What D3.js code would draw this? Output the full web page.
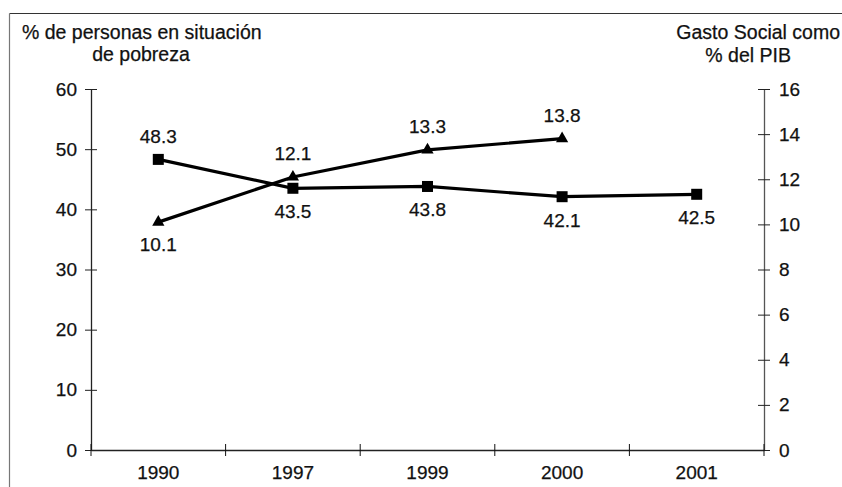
<!DOCTYPE html>
<html><head><meta charset="utf-8">
<script src="https://cdn.jsdelivr.net/npm/d3@7"></script>
<style>
body{margin:0;background:#fff;}
text{font-family:"Liberation Sans",Arial,Helvetica,sans-serif;fill:#111;stroke:#111;stroke-width:0.25px;}
</style></head>
<body>
<svg id="c" width="842" height="487"></svg>
<script>
const years = ["1990","1997","1999","2000","2001"];
const pobreza = [48.3, 43.5, 43.8, 42.1, 42.5];
const gastoYears = ["1990","1997","1999","2000"];
const gasto = [10.1, 12.1, 13.3, 13.8];
const leftTicks = [0,10,20,30,40,50,60];
const rightTicks = [0,2,4,6,8,10,12,14,16];

const svg = d3.select("#c");
const L = 91, R = 764, T = 89, B = 450;

// frame
svg.append("line").attr("x1",9.5).attr("x2",842).attr("y1",13.5).attr("y2",13.5).attr("stroke","#333").attr("stroke-width",1.2);
svg.append("line").attr("x1",9.5).attr("x2",9.5).attr("y1",13.5).attr("y2",487).attr("stroke","#777").attr("stroke-width",1.2);

const x = d3.scaleBand().domain(years).range([L,R]).padding(0);
const yL = d3.scaleLinear().domain([0,60]).range([B,T]);
const yR = d3.scaleLinear().domain([0,16]).range([B,T]);

const fs = "19px";
// left axis
const gl = svg.append("g").attr("transform",`translate(${L},0)`)
  .call(d3.axisLeft(yL).tickValues(leftTicks).tickSize(6).tickSizeOuter(0).tickPadding(8));
gl.selectAll(".tick line").attr("x2",6).attr("x1",-6);
// right axis
const gr = svg.append("g").attr("transform",`translate(${R},0)`)
  .call(d3.axisRight(yR).tickValues(rightTicks).tickSize(6).tickSizeOuter(0).tickPadding(9));
gr.selectAll(".tick line").attr("x1",-6).attr("x2",6);
// x axis
const gx = svg.append("g").attr("transform",`translate(0,${B})`)
  .call(d3.axisBottom(x).tickSize(0).tickSizeOuter(0).tickPadding(16));
const bounds = years.map(y=>x(y)).concat([R]);
gx.selectAll(".bt").data(bounds).enter().append("line").attr("class","bt")
  .attr("x1",d=>d).attr("x2",d=>d).attr("y1",-6).attr("y2",6).attr("stroke","#111");

[gl,gr,gx].forEach(g=>{
  g.selectAll("text").style("font-size",fs).style("font-family","'Liberation Sans',Arial,sans-serif").attr("fill","#111");
  g.selectAll("path.domain").attr("stroke","#222").attr("stroke-width",1.3);
  g.selectAll(".tick line").attr("stroke","#222");
});
gr.selectAll("path.domain").attr("stroke","#555");
gx.selectAll("text").attr("dy","0.71em");

// titles
const tfs = "19.5px";
svg.append("text").attr("x",22).attr("y",39).style("font-size",tfs).text("% de personas en situación");
svg.append("text").attr("x",141).attr("y",61).attr("text-anchor","middle").style("font-size",tfs).text("de pobreza");
svg.append("text").attr("x",840).attr("y",39).attr("text-anchor","end").style("font-size",tfs).text("Gasto Social como");
svg.append("text").attr("x",791).attr("y",62).attr("text-anchor","end").style("font-size",tfs).text("% del PIB");

const cx = d => x(d) + x.bandwidth()/2;

// pobreza line
const pData = years.map((y,i)=>({y, v:pobreza[i]}));
svg.append("path").datum(pData)
  .attr("d", d3.line().x(d=>cx(d.y)).y(d=>yL(d.v)))
  .attr("fill","none").attr("stroke","#000").attr("stroke-width",3.2);
svg.selectAll(".sq").data(pData).enter().append("rect")
  .attr("x",d=>cx(d.y)-5.5).attr("y",d=>yL(d.v)-5.5).attr("width",11).attr("height",11).attr("fill","#000");
svg.selectAll(".pl").data(pData).enter().append("text")
  .attr("x",d=>cx(d.y)).attr("y",(d,i)=> i===0 ? yL(d.v)-16 : yL(d.v)+30)
  .attr("text-anchor","middle").style("font-size",fs).text(d=>d.v.toFixed(1));

// gasto line
const gData = gastoYears.map((y,i)=>({y, v:gasto[i]}));
svg.append("path").datum(gData)
  .attr("d", d3.line().x(d=>cx(d.y)).y(d=>yR(d.v)))
  .attr("fill","none").attr("stroke","#000").attr("stroke-width",3.2);
svg.selectAll(".tri").data(gData).enter().append("path")
  .attr("transform",d=>`translate(${cx(d.y)},${yR(d.v)})`)
  .attr("d", d3.symbol().type(d3.symbolTriangle).size(65)).attr("fill","#000");
svg.selectAll(".gl").data(gData).enter().append("text")
  .attr("x",d=>cx(d.y)).attr("y",(d,i)=> i===0 ? yR(d.v)+29 : yR(d.v)-17)
  .attr("text-anchor","middle").style("font-size",fs).text(d=>d.v.toFixed(1));
</script>
</body></html>
